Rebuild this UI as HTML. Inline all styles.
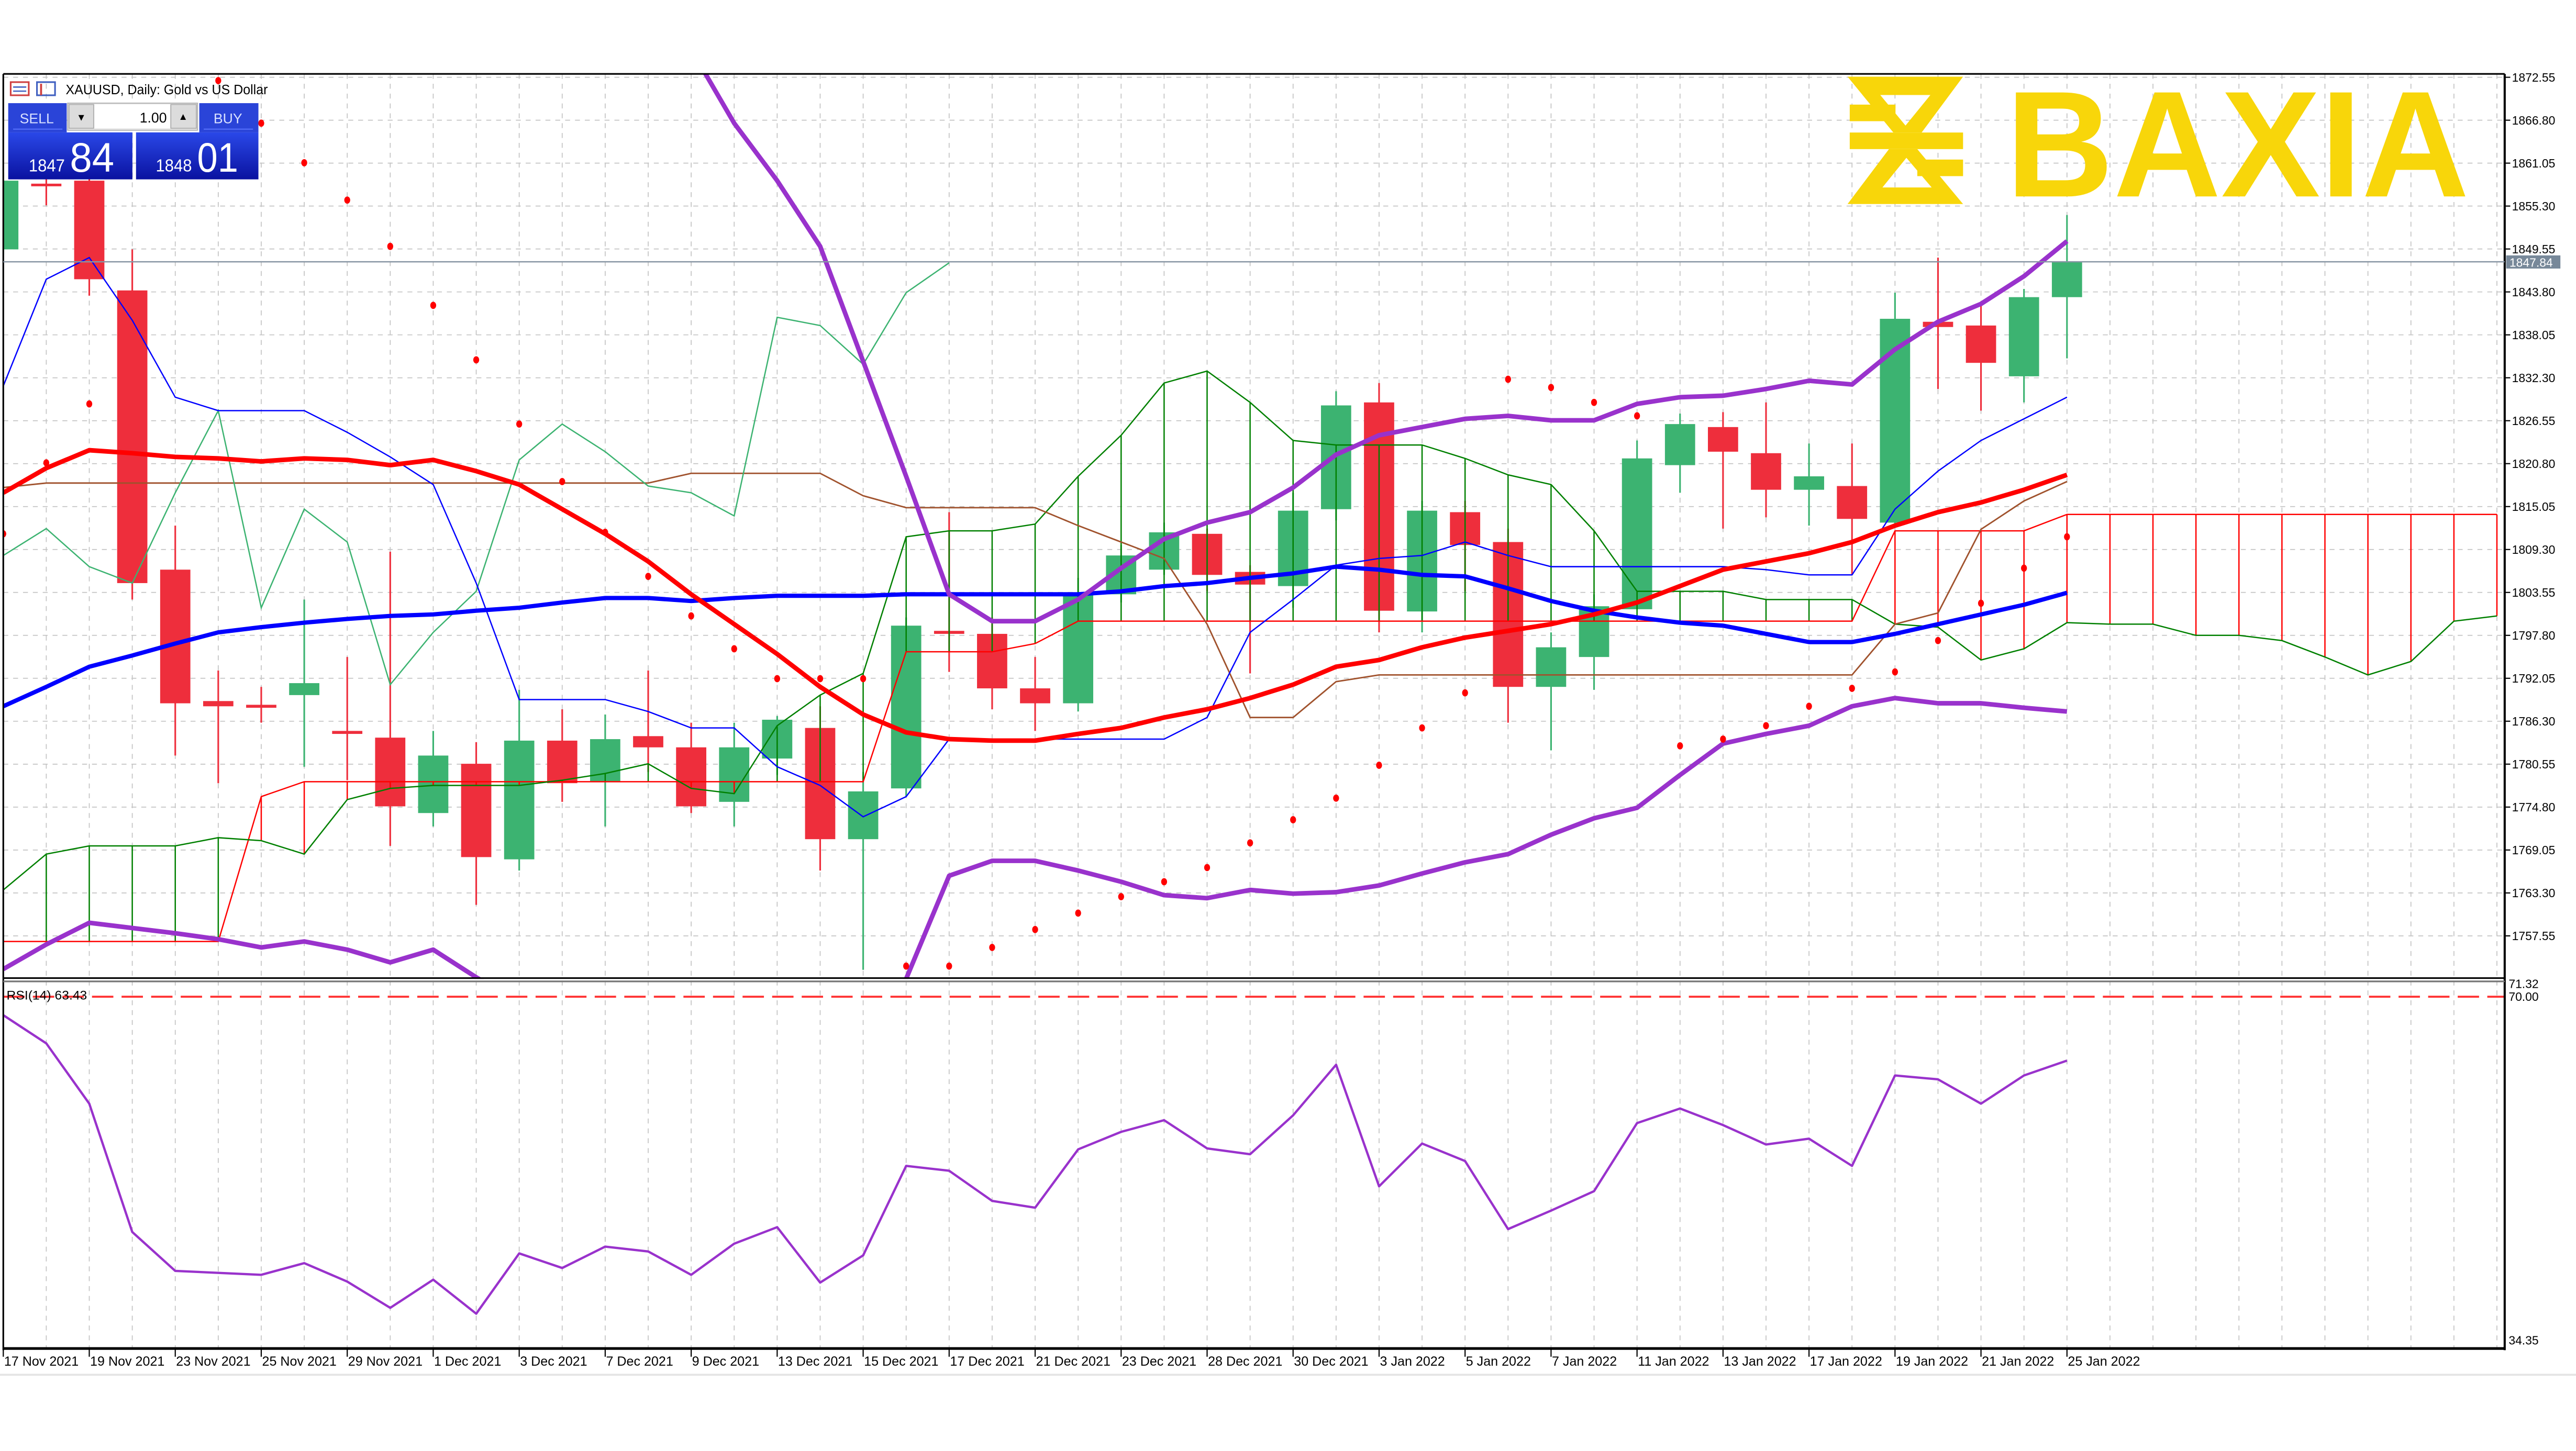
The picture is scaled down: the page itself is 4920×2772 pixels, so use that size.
<!DOCTYPE html>
<html><head><meta charset="utf-8"><style>
html,body{margin:0;padding:0;background:#fff;overflow:hidden}
svg{display:block}
text{font-family:"Liberation Sans",sans-serif}
</style></head><body>
<svg id="chart" xmlns="http://www.w3.org/2000/svg" width="4920" height="2772" viewBox="0 0 1568 883.4" preserveAspectRatio="none">
<defs>
<clipPath id="mainClip"><rect x="2" y="45" width="1522.6" height="551"/></clipPath>
<clipPath id="rsiClip"><rect x="2" y="599" width="1522.6" height="222"/></clipPath>
<linearGradient id="pg" x1="0" y1="0" x2="0" y2="1"><stop offset="0" stop-color="#2a48e8"/><stop offset="1" stop-color="#0a12a0"/></linearGradient>
</defs>
<rect x="0" y="0" width="1568" height="883.4" fill="#ffffff"/>
<g id="grid"></g>
<g id="candles" clip-path="url(#mainClip)"></g>
<g id="ind" clip-path="url(#mainClip)"></g>
<g id="rsi" clip-path="url(#rsiClip)"></g>
<g id="axes"></g>

<!-- frame -->
<g stroke="#000" fill="none">
<line x1="2" y1="45" x2="1524.6" y2="45" stroke-width="1"/>
<line x1="2" y1="45" x2="2" y2="822" stroke-width="1"/>
<line x1="1524.6" y1="45" x2="1524.6" y2="822" stroke-width="1.3"/>
<line x1="2" y1="595.5" x2="1524.6" y2="595.5" stroke-width="1"/>
<line x1="2" y1="597.5" x2="1524.6" y2="597.5" stroke-width="1" stroke="#777"/>
<line x1="2" y1="821" x2="1524.6" y2="821" stroke-width="1.6"/>
<line x1="0" y1="837" x2="1568" y2="837" stroke="#e4e4e4" stroke-width="1.2"/>
</g>

<!-- price line -->
<line x1="2" y1="159.4" x2="1524.6" y2="159.4" stroke="#8795a3" stroke-width="0.8"/>
<rect x="1525.5" y="155.5" width="33" height="8" fill="#778899"/>
<text x="1527.5" y="162.3" font-size="7.3" fill="#fff">1847.84</text>

<!-- logo -->
<g fill="#f8d60a">
<g transform="translate(1124.6,46.7) scale(0.2653,0.1062) translate(-35,-80)">
<path fill-rule="evenodd" d="M35,80 L300,80 L205,400 L140,400 Z M110,185 L225,185 L168,360 Z"/>
<rect x="40" y="240" width="105" height="95"/>
<rect x="40" y="400" width="260" height="95"/>
<path fill-rule="evenodd" d="M130,495 L195,495 L300,810 L35,810 Z M115,715 L228,715 L170,545 Z"/>
<rect x="195" y="555" width="105" height="95"/>
</g>
<text x="1221" y="119.6" font-size="92" font-weight="bold" textLength="282" lengthAdjust="spacingAndGlyphs">BAXIA</text>
</g>

<!-- title -->
<g>
<rect x="6.5" y="50" width="11" height="8" fill="none" stroke="#d04040" stroke-width="1"/>
<line x1="8" y1="53" x2="16" y2="53" stroke="#4060c0" stroke-width="0.8"/>
<line x1="8" y1="55.5" x2="16" y2="55.5" stroke="#4060c0" stroke-width="0.8"/>
<rect x="22.5" y="50" width="11" height="8" fill="none" stroke="#4060c0" stroke-width="1"/>
<line x1="25" y1="51" x2="25" y2="58" stroke="#d04040" stroke-width="1.2"/>
<text x="40" y="57.3" font-size="8.3" fill="#000" textLength="123" lengthAdjust="spacingAndGlyphs">XAUUSD, Daily:  Gold vs US Dollar</text>
</g>

<!-- trade panel -->
<g>
<rect x="5" y="62.8" width="35.6" height="17.8" fill="#2a44d8"/>
<text x="12" y="75" font-size="8.5" fill="#d8e0ff">SELL</text>
<rect x="41.2" y="62.8" width="79" height="16.5" fill="#e8e8e8" stroke="#b0b0b0" stroke-width="0.6"/>
<rect x="42" y="63.6" width="15" height="14.5" fill="#dcdcdc" stroke="#a8a8a8" stroke-width="0.5"/>
<text x="46.5" y="73.5" font-size="6" fill="#000">▼</text>
<rect x="57.5" y="63.6" width="46" height="14.5" fill="#fff"/>
<text x="85" y="74.6" font-size="8.5" fill="#000">1.00</text>
<rect x="104" y="63.6" width="15.5" height="14.5" fill="#dcdcdc" stroke="#a8a8a8" stroke-width="0.5"/>
<text x="108.5" y="73" font-size="6" fill="#000">▲</text>
<rect x="121.3" y="62.8" width="36" height="17.8" fill="#2a44d8"/>
<text x="130" y="75" font-size="8.5" fill="#d8e0ff">BUY</text>
<line x1="8" y1="78.6" x2="38" y2="78.6" stroke="#5a74ff" stroke-width="0.6"/>
<line x1="124" y1="78.6" x2="154" y2="78.6" stroke="#5a74ff" stroke-width="0.6"/>
<rect x="5" y="80.6" width="75.6" height="28.6" fill="url(#pg)"/>
<rect x="82.8" y="80.6" width="74.5" height="28.6" fill="url(#pg)"/>
<text x="17.5" y="104.4" font-size="10.5" fill="#fff" textLength="22" lengthAdjust="spacingAndGlyphs">1847</text>
<text x="42.5" y="104.6" font-size="25" fill="#fff" textLength="27" lengthAdjust="spacingAndGlyphs">84</text>
<text x="94.8" y="104.4" font-size="10.5" fill="#fff" textLength="22" lengthAdjust="spacingAndGlyphs">1848</text>
<text x="120" y="104.6" font-size="25" fill="#fff" textLength="25" lengthAdjust="spacingAndGlyphs">01</text>
</g>

<text x="4" y="608.5" font-size="7.8" fill="#000" textLength="49" lengthAdjust="spacingAndGlyphs">RSI(14) 63.43</text>

<script>
const dateLabels = ["17 Nov 2021","19 Nov 2021","23 Nov 2021","25 Nov 2021","29 Nov 2021","1 Dec 2021","3 Dec 2021","7 Dec 2021","9 Dec 2021","13 Dec 2021","15 Dec 2021","17 Dec 2021","21 Dec 2021","23 Dec 2021","28 Dec 2021","30 Dec 2021","3 Jan 2022","5 Jan 2022","7 Jan 2022","11 Jan 2022","13 Jan 2022","17 Jan 2022","19 Jan 2022","21 Jan 2022","25 Jan 2022"];
const priceTicks = [1872.55,1866.80,1861.05,1855.30,1849.55,1843.80,1838.05,1832.30,1826.55,1820.80,1815.05,1809.30,1803.55,1797.80,1792.05,1786.30,1780.55,1774.80,1769.05,1763.30,1757.55];
const rsiTicks = [71.32,70.00,34.35];
const openP = [1849.5,1858.3,1858.7,1844.0,1806.6,1789.0,1788.5,1789.8,1785.0,1784.1,1774.0,1780.6,1767.8,1783.7,1778.2,1784.3,1782.8,1775.5,1781.3,1785.4,1770.5,1777.3,1798.4,1798.0,1790.7,1788.7,1803.3,1806.6,1811.4,1806.3,1804.4,1814.7,1829.0,1801.0,1814.3,1810.3,1790.9,1794.9,1801.3,1820.6,1825.7,1822.2,1817.3,1817.8,1812.9,1839.8,1839.3,1832.5,1843.1];
const highP = [1859.8,1859.1,1860.9,1849.5,1812.5,1793.1,1790.9,1802.6,1794.9,1809.0,1785.0,1783.5,1790.5,1787.9,1787.2,1793.1,1786.1,1786.1,1787.0,1788.3,1779.5,1800.2,1814.3,1800.2,1794.9,1805.5,1809.9,1812.9,1812.1,1807.2,1816.9,1830.5,1831.6,1815.8,1815.8,1812.1,1798.2,1803.3,1823.9,1827.5,1827.7,1829.0,1823.5,1823.5,1843.7,1848.4,1842.2,1844.2,1854.1];
const lowP = [1848.8,1855.4,1843.3,1802.6,1781.7,1778.0,1786.1,1780.2,1778.4,1769.6,1772.2,1761.7,1766.3,1775.5,1772.2,1779.5,1774.0,1772.2,1779.1,1766.3,1753.0,1776.2,1792.9,1787.9,1785.0,1787.6,1802.2,1805.9,1803.7,1792.7,1801.5,1813.2,1798.2,1798.2,1803.7,1786.1,1782.4,1790.5,1801.3,1816.9,1812.1,1813.6,1812.5,1805.9,1812.5,1830.8,1827.9,1829.0,1834.9];
const closeP = [1858.7,1858.0,1845.5,1804.8,1788.7,1788.3,1788.1,1791.4,1784.6,1774.9,1781.7,1768.1,1783.7,1778.0,1783.9,1782.8,1774.9,1782.8,1786.5,1770.5,1776.9,1799.1,1798.0,1790.7,1788.7,1803.3,1808.5,1811.6,1805.9,1804.6,1814.5,1828.6,1801.1,1814.5,1809.9,1790.9,1796.2,1801.7,1821.5,1826.1,1822.4,1817.3,1819.1,1813.4,1840.2,1839.1,1834.3,1843.1,1847.84];
const maRed = [1816.9,1820.2,1822.6,1822.2,1821.7,1821.5,1821.1,1821.5,1821.3,1820.6,1821.3,1819.8,1818.0,1814.7,1811.4,1807.7,1803.3,1799.3,1795.3,1790.9,1787.2,1784.8,1783.9,1783.7,1783.7,1784.6,1785.4,1786.8,1787.9,1789.4,1791.2,1793.6,1794.5,1796.2,1797.5,1798.4,1799.3,1800.6,1802.2,1804.4,1806.6,1807.7,1808.8,1810.3,1812.5,1814.3,1815.6,1817.3,1819.3];
const maBlue = [1788.3,1790.9,1793.6,1795.1,1796.7,1798.2,1798.9,1799.5,1800.0,1800.4,1800.6,1801.1,1801.5,1802.2,1802.8,1802.8,1802.4,1802.8,1803.1,1803.1,1803.1,1803.3,1803.3,1803.3,1803.3,1803.3,1803.7,1804.4,1804.8,1805.5,1806.1,1807.0,1806.6,1805.9,1805.7,1804.1,1802.4,1801.1,1800.2,1799.5,1799.1,1798.0,1796.9,1796.9,1798.0,1799.3,1800.6,1801.9,1803.5];
const bandUpper = [1892,1892,1891,1891,1890,1890,1890,1889,1889,1889,1888,1888,1888,1887,1886,1881.8,1876.3,1866.4,1858.7,1849.9,1834.5,1819.1,1803.3,1799.7,1799.7,1802.6,1806.8,1810.7,1812.9,1814.3,1817.6,1822.0,1824.6,1825.7,1826.8,1827.2,1826.6,1826.6,1828.8,1829.7,1829.9,1830.8,1831.9,1831.4,1836.1,1839.8,1842.2,1845.9,1850.6];
const bandLower = [1753.1,1756.4,1759.3,1758.6,1757.9,1757.1,1756.0,1756.8,1755.7,1754.0,1755.7,1752.0,1748.7,1744.3,1739.9,1737.7,1735.5,1733.3,1733.3,1731.1,1737.7,1751.8,1765.6,1767.6,1767.6,1766.3,1764.8,1763.0,1762.6,1763.7,1763.2,1763.4,1764.3,1765.9,1767.4,1768.5,1771.1,1773.3,1774.7,1779.1,1783.3,1784.6,1785.7,1788.3,1789.4,1788.7,1788.7,1788.1,1787.6];
const tenkan = [1831.2,1845.5,1848.4,1840.0,1829.7,1827.9,1827.9,1827.9,1825.0,1821.7,1818.0,1804.8,1789.2,1789.2,1789.2,1787.6,1785.4,1785.4,1780.2,1777.7,1773.5,1776.2,1783.9,1783.9,1783.9,1783.9,1783.9,1783.9,1786.8,1798.2,1802.6,1807.2,1808.1,1808.5,1810.3,1808.5,1807.0,1807.0,1807.0,1807.0,1807.0,1806.6,1805.9,1805.9,1814.7,1819.8,1823.9,1826.8,1829.7];
const kijun = [1817.6,1818.2,1818.2,1818.2,1818.2,1818.2,1818.2,1818.2,1818.2,1818.2,1818.2,1818.2,1818.2,1818.2,1818.2,1818.2,1819.5,1819.5,1819.5,1819.5,1816.5,1814.9,1814.9,1814.9,1814.9,1812.5,1810.3,1808.1,1799.3,1786.8,1786.8,1791.6,1792.5,1792.5,1792.5,1792.5,1792.5,1792.5,1792.5,1792.5,1792.5,1792.5,1792.5,1792.5,1799.3,1800.8,1812.0,1815.8,1818.4];
const chikou = [1808.5,1812.1,1807.0,1804.8,1816.9,1827.9,1801.5,1814.7,1810.3,1791.2,1798.2,1803.7,1821.3,1826.1,1822.4,1817.8,1816.9,1813.8,1840.4,1839.3,1834.1,1843.7,1847.7];
const spanA = [1763.7,1768.5,1769.6,1769.6,1769.6,1770.7,1770.3,1768.5,1775.8,1777.3,1777.7,1777.7,1777.7,1778.4,1779.3,1780.6,1777.3,1776.6,1785.7,1789.8,1792.7,1811.0,1811.8,1811.8,1812.7,1819.1,1824.6,1831.6,1833.2,1829.0,1823.9,1823.3,1823.3,1823.3,1821.5,1819.3,1818.0,1811.8,1803.7,1803.7,1803.7,1802.6,1802.6,1802.6,1799.3,1798.9,1794.5,1796.0,1799.5,1799.3,1799.3,1797.8,1797.8,1797.1,1794.9,1792.5,1794.3,1799.7,1800.4];
const spanB = [1756.8,1756.8,1756.8,1756.8,1756.8,1756.8,1776.2,1778.2,1778.2,1778.2,1778.2,1778.2,1778.2,1778.2,1778.2,1778.2,1778.2,1778.2,1778.2,1778.2,1778.2,1795.6,1795.6,1795.6,1796.7,1799.7,1799.7,1799.7,1799.7,1799.7,1799.7,1799.7,1799.7,1799.7,1799.7,1799.7,1799.7,1799.7,1799.7,1799.7,1799.7,1799.7,1799.7,1799.7,1811.8,1811.8,1811.8,1811.8,1814.0,1814.0,1814.0,1814.0,1814.0,1814.0,1814.0,1814.0,1814.0,1814.0,1814.0];
const sar = [1811.4,1820.9,1828.8,null,null,1872.1,1866.4,1861.1,1856.1,1849.9,1842.0,1834.7,1826.1,1818.4,1811.6,1805.7,1800.4,1796.0,1792.0,1792.0,1792.0,1753.5,1753.5,1756.0,1758.4,1760.6,1762.8,1764.8,1766.7,1770.0,1773.1,1776.0,1780.4,1785.4,1790.1,1832.1,1831.0,1829.0,1827.2,1783.0,1783.9,1785.7,1788.3,1790.7,1792.9,1797.1,1802.1,1806.8,1811.0];
const rsiVals = [68.1,65.2,59.0,45.8,41.8,41.6,41.4,42.6,40.7,38.0,40.9,37.4,43.6,42.1,44.3,43.8,41.4,44.6,46.3,40.6,43.4,52.6,52.1,49.0,48.3,54.3,56.1,57.3,54.4,53.8,57.8,63.0,50.5,54.9,53.1,46.1,48.0,50.0,57.0,58.5,56.8,54.8,55.4,52.6,61.9,61.5,59.0,61.9,63.43];

const NS = "http://www.w3.org/2000/svg";
function xs(i){ return 2 + 26.17*i; }
function ys(p){ return (1882.9 - p)/0.22; }
function yr(v){ return 599 + (71.32 - v)*5.92; }
function mk(tag, attrs, parent){
  const el = document.createElementNS(NS, tag);
  for (const k in attrs) el.setAttribute(k, attrs[k]);
  parent.appendChild(el);
  return el;
}
const grid = document.getElementById('grid');
const candles = document.getElementById('candles');
const ind = document.getElementById('ind');
const rsiG = document.getElementById('rsi');
const axes = document.getElementById('axes');

// vertical grid
for (let i = 1; xs(i) < 1524; i++) {
  const l = mk('line', {x1: xs(i), y1: 45, x2: xs(i), y2: 821, stroke: '#c4c4c4', 'stroke-width': 0.55, 'stroke-dasharray': '3,3'}, grid);
  
  
}
// horizontal grid + price labels
priceTicks.forEach(function(p){
  const y = ys(p);
  const l = mk('line', {x1: 2, y1: y, x2: 1524, y2: y, stroke: '#c4c4c4', 'stroke-width': 0.55, 'stroke-dasharray': '3,3'}, grid);
  
  
  mk('line', {x1: 1524.6, y1: y, x2: 1528, y2: y, stroke: '#000', 'stroke-width': 0.7}, axes);
  const t = mk('text', {x: 1529, y: y + 2.6, 'font-size': 7.3, fill: '#000'}, axes);
  
  
  t.textContent = p.toFixed(2);
});
// date labels
dateLabels.forEach(function(d, k){
  const x = xs(2*k);
  mk('line', {x1: x, y1: 821, x2: x, y2: 826, stroke: '#000', 'stroke-width': 0.7}, axes);
  const t = mk('text', {x: x + 0.5, y: 831.5, 'font-size': 8, fill: '#000'}, axes);
  
  
  t.textContent = d;
});
// rsi axis labels
rsiTicks.forEach(function(v, k){
  const y = v === 34.35 ? 818.5 : yr(v) + 2.5;
  const t = mk('text', {x: 1527, y: y, 'font-size': 7.3, fill: '#000'}, axes);
  
  
  t.textContent = v.toFixed(2);
});

// candles
for (let i = 0; i < closeP.length; i++) {
  const up = closeP[i] >= openP[i];
  const col = up ? '#3cb371' : '#ee2e3c';
  const x = xs(i);
  const w = mk('line', {x1: x, y1: ys(highP[i]), x2: x, y2: ys(lowP[i]), stroke: col, 'stroke-width': 1}, candles);
  
  
  const top = ys(Math.max(openP[i], closeP[i]));
  const h = Math.max(1.6, Math.abs(ys(openP[i]) - ys(closeP[i])));
  const b = mk('rect', {x: x - 9.2, y: top, width: 18.4, height: h, fill: col}, candles);
  
  
}

function pts(arr, fy){
  const out = [];
  arr.forEach(function(v, i){ if (v !== null) out.push(xs(i).toFixed(2) + ',' + fy(v).toFixed(2)); });
  return out.join(' ');
}
// ichimoku cloud verticals
for (let i = 0; i < spanA.length; i++) {
  const c = spanA[i] >= spanB[i] ? '#008000' : '#ff0000';
  const v = mk('line', {x1: xs(i), y1: ys(spanA[i]), x2: xs(i), y2: ys(spanB[i]), stroke: c, 'stroke-width': 0.8}, ind);
  
  
}
let e;
e = mk('polyline', {points: pts(spanB, ys), fill: 'none', stroke: '#ff0000', 'stroke-width': 0.8}, ind);


e = mk('polyline', {points: pts(spanA, ys), fill: 'none', stroke: '#008000', 'stroke-width': 0.8}, ind);


e = mk('polyline', {points: pts(kijun, ys), fill: 'none', stroke: '#a0522d', 'stroke-width': 0.9}, ind);


e = mk('polyline', {points: pts(chikou, ys), fill: 'none', stroke: '#3cb371', 'stroke-width': 0.8}, ind);


e = mk('polyline', {points: pts(tenkan, ys), fill: 'none', stroke: '#0000ff', 'stroke-width': 0.8}, ind);


e = mk('polyline', {points: pts(maBlue, ys), fill: 'none', stroke: '#0000ff', 'stroke-width': 2.6, 'stroke-linejoin': 'round'}, ind);


e = mk('polyline', {points: pts(maRed, ys), fill: 'none', stroke: '#ff0000', 'stroke-width': 2.8, 'stroke-linejoin': 'round'}, ind);


e = mk('polyline', {points: pts(bandUpper, ys), fill: 'none', stroke: '#9932cc', 'stroke-width': 2.8, 'stroke-linejoin': 'round'}, ind);


e = mk('polyline', {points: pts(bandLower, ys), fill: 'none', stroke: '#9932cc', 'stroke-width': 2.8, 'stroke-linejoin': 'round'}, ind);


sar.forEach(function(v, i){
  if (v === null) return;
  const d = mk('ellipse', {cx: xs(i), cy: ys(v), rx: 1.8, ry: 2.2, fill: '#ff0000'}, ind);
  
  
});

// RSI
e = mk('line', {x1: 2, y1: yr(70), x2: 1524, y2: yr(70), stroke: '#ff3030', 'stroke-width': 1.2, 'stroke-dasharray': '13,5'}, rsiG);


e = mk('polyline', {points: pts(rsiVals, yr), fill: 'none', stroke: '#9932cc', 'stroke-width': 1.4, 'stroke-linejoin': 'round'}, rsiG);


</script>
</svg>
</body></html>
